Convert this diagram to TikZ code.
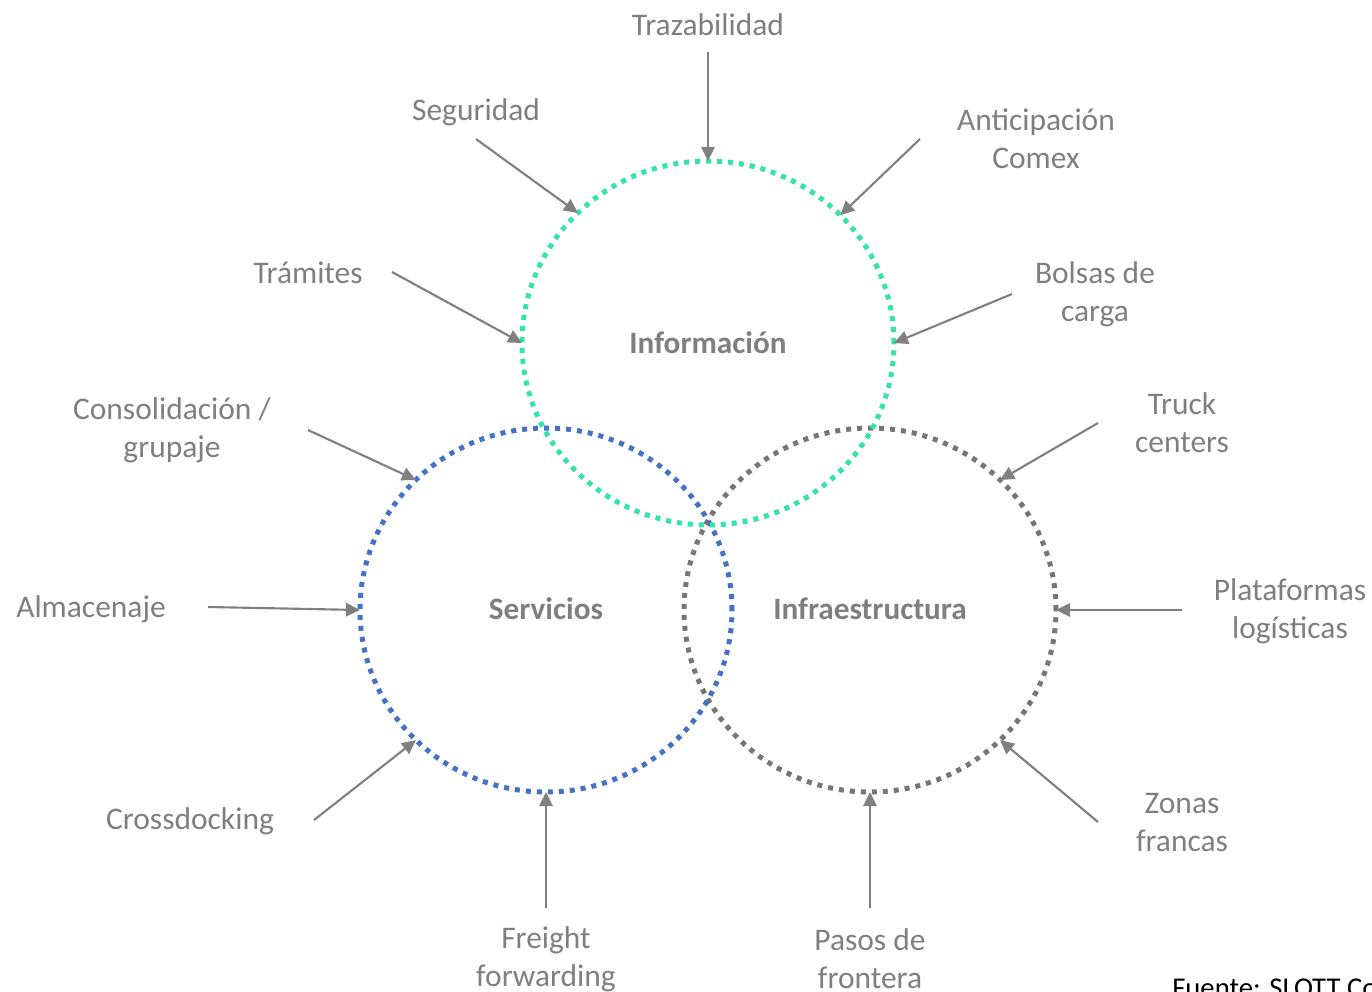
\documentclass[tikz,border=0pt]{standalone}
\usepackage{fontspec}
\setmainfont{Carlito}
\usetikzlibrary{arrows.meta,shapes.geometric}
\definecolor{txtgray}{HTML}{7F7F7F}
\definecolor{arrgray}{HTML}{808080}
\definecolor{cgreen}{HTML}{33E3AC}
\definecolor{cblue}{HTML}{4472C4}
\definecolor{cgray}{HTML}{767676}
\begin{document}
\begin{tikzpicture}[x=0.75pt,y=-0.75pt,
  lbl/.style={text=txtgray,font=\fontsize{23.6}{28.5}\selectfont,align=center,inner sep=0pt},
  ttl/.style={text=txtgray,font=\fontsize{23.4}{28.5}\selectfont\bfseries,inner sep=0pt},
  ring/.style={ellipse,draw=#1,line width=3.75pt,dash pattern=on 3.75pt off 4.5pt,minimum width=279pt,minimum height=273pt,inner sep=0pt,outer sep=0pt},
  arr/.style={draw=arrgray,line width=1.6pt,-{Triangle[length=10.5pt,width=10pt]},fill=arrgray}]
\useasboundingbox (0,0) rectangle (1372,992);
% rings
\node[ring=cgray] (infra) at (870,610) {};
\node[ring=cblue] (serv) at (546,610) {};
\node[ring=cgreen] (info) at (708,343) {};
% titles
\node[ttl] (tinfo) at (708,343) {Información};
\node[ttl] (tserv) at (546,609) {Servicios};
\node[ttl] (tinfra) at (870,609) {Infraestructura};
% labels
\node[lbl] (traz) at (708,25) {Trazabilidad};
\node[lbl] (segu) at (476,112) {Seguridad};
\node[lbl] (anti) at (1036,139) {Anticipación\\Comex};
\node[lbl] (tram) at (308,273) {Trámites};
\node[lbl] (bols) at (1095,294) {Bolsas de\\carga};
\node[lbl] (cons) at (172,430) {Consolidación /\\grupaje};
\node[lbl] (truc) at (1182,423) {Truck\\centers};
\node[lbl] (alma) at (91,609) {Almacenaje};
\node[lbl] (plat) at (1290,611) {Plataformas\\logísticas};
\node[lbl] (cros) at (190,821) {Crossdocking};
\node[lbl] (zona) at (1182,823) {Zonas\\francas};
\node[lbl] (frei) at (546,959) {Freight\\forwarding};
\node[lbl] (paso) at (870,959) {Pasos de\\frontera};
\node[anchor=base west,inner sep=0pt,font=\fontsize{21.5}{26}\selectfont] (fuente) at (1172,997) {Fuente: SLOTT Consulting};
% arrow start points
\coordinate (sTraz) at (708,52);
\coordinate (sSegu) at (476,139);
\coordinate (sAnti) at (920,139);
\coordinate (sTram) at (392,272);
\coordinate (sBols) at (1012,294);
\coordinate (sCons) at (308,430);
\coordinate (sTruc) at (1098,423);
\coordinate (sAlma) at (208,607);
\coordinate (sPlat) at (1182,610);
\coordinate (sCros) at (314,820);
\coordinate (sZona) at (1098,822);
\coordinate (sFrei) at (546,908);
\coordinate (sPaso) at (870,908);
% arrows
\draw[arr] (sTraz) -- (info.90);
\draw[arr] (sSegu) -- (info.135);
\draw[arr] (sAnti) -- (info.44);
\draw[arr] (sTram) -- (info.180);
\draw[arr] (sBols) -- (info.0);
\draw[arr] (sCons) -- (serv.135);
\draw[arr] (sAlma) -- (serv.180);
\draw[arr] (sCros) -- (serv.225);
\draw[arr] (sFrei) -- (serv.270);
\draw[arr] (sTruc) -- (infra.45);
\draw[arr] (sPlat) -- (infra.0);
\draw[arr] (sZona) -- (infra.315);
\draw[arr] (sPaso) -- (infra.270);
\end{tikzpicture}
\end{document}
